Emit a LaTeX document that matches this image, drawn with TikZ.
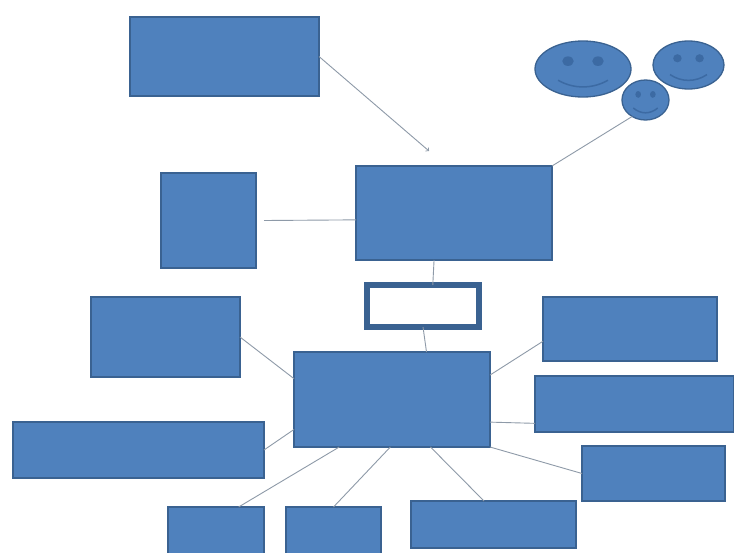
\documentclass[tikz,border=0pt]{standalone}
\usetikzlibrary{shapes.geometric}
\definecolor{boxfill}{HTML}{4F81BD}
\definecolor{boxline}{HTML}{3A6291}
\definecolor{eyecolor}{HTML}{3C6AA3}
\definecolor{linkcolor}{HTML}{8E9AA8}
\begin{document}
\begin{tikzpicture}[x=1pt, y=-1pt,
        % Estilos
        bluebox/.style={
            draw=boxline,
            line width=1.3pt,
            rectangle,
            fill=boxfill,
            inner sep=0pt,
            outer sep=0pt,
            minimum width=#1
        },
        face/.style={
            draw=boxline,
            line width=1.3pt,
            ellipse,
            fill=boxfill,
            inner sep=0pt,
            outer sep=0pt
        },
        link/.style={draw=linkcolor, line width=0.9pt}
    ]

        \clip (0,0) rectangle (734,552);
        \fill[white] (0,0) rectangle (734,552);

        % Nodes
        \node[bluebox=189pt, minimum height=79pt] (topbox) at (224.5,56.5) {};
        \node[bluebox=196pt, minimum height=94pt] (mainbox) at (454,213) {};
        \node[bluebox=95pt, minimum height=95pt] (sidebox) at (208.5,220.5) {};
        \node[draw=boxline, line width=6.5pt, fill=white, rectangle, inner sep=0pt, outer sep=0pt,
            minimum width=112pt, minimum height=42pt] (whitebox) at (423,306) {};
        \node[bluebox=149pt, minimum height=80pt] (leftupper) at (165.5,337) {};
        \node[bluebox=196pt, minimum height=95pt] (hubbox) at (392,399.5) {};
        \node[bluebox=251pt, minimum height=56pt] (leftlower) at (138.5,450) {};
        \node[bluebox=174pt, minimum height=64pt] (rightupper) at (630,329) {};
        \node[bluebox=199pt, minimum height=56pt] (rightmiddle) at (634.5,404) {};
        \node[bluebox=143pt, minimum height=55pt] (rightlower) at (653.5,473.5) {};
        \node[bluebox=96pt, minimum height=60pt] (bottomone) at (216,537) {};
        \node[bluebox=95pt, minimum height=60pt] (bottomtwo) at (333.5,537) {};
        \node[bluebox=165pt, minimum height=47pt] (bottomthree) at (493.5,524.5) {};

        % Caras
        \foreach \name/\cx/\cy/\w/\h in {faceone/583/69/96/56, facetwo/688.5/65/71/48, facethree/645.5/100/47/40} {
            \node[face, minimum width=\w pt, minimum height=\h pt] (\name) at (\cx,\cy) {};
            \begin{scope}[shift={(\name.center)}, x=\w pt, y=-\h pt]
                \fill[eyecolor] (-0.156,-0.14) ellipse [x radius=0.06, y radius=0.085];
                \fill[eyecolor] (0.156,-0.14) ellipse [x radius=0.06, y radius=0.085];
                \draw[eyecolor, line width=1.5pt] (-0.26,0.2) .. controls (-0.1,0.36) and (0.1,0.36) .. (0.26,0.2);
            \end{scope}
        }

        % Lines
        \coordinate (arrowend) at (429,151);
        \draw[link, ->] (topbox.east) -- (arrowend);
        \draw[link] ([xshift=8pt]sidebox.east) -- (mainbox.184);
        \draw[link] (mainbox.north east) -- (facethree.231);
        \draw[link] (mainbox.247) -- (whitebox.65);
        \draw[link] (whitebox.south) -- (hubbox.54);
        \draw[link] (hubbox.168) -- (leftupper.east);
        \draw[link] (hubbox.197) -- (leftlower.east);
        \draw[link] (hubbox.14) -- (rightupper.188);
        \draw[link] (hubbox.-13.5) -- (rightmiddle.191);
        \draw[link] (hubbox.south east) -- (rightlower.west);
        \draw[link] (hubbox.222) -- (bottomone.53);
        \draw[link] (hubbox.268) -- (bottomtwo.north);
        \draw[link] (hubbox.309) -- (bottomthree.112);

    \end{tikzpicture}
\end{document}
